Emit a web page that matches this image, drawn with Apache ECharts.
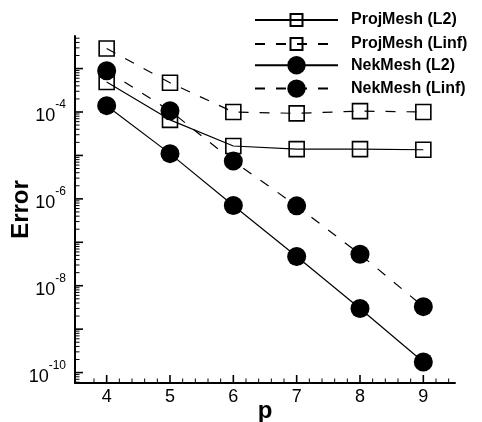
<!DOCTYPE html>
<html>
<head>
<meta charset="utf-8">
<script src="https://cdn.jsdelivr.net/npm/echarts@6/dist/echarts.min.js"></script>
<style>
  html, body { margin: 0; padding: 0; background: #fff; }
  #chart { width: 482px; height: 422px; }
</style>
</head>
<body>
<div id="chart"></div>
<script>
// Polynomial order p and the measured errors for each mesh generator
const orders = [4, 5, 6, 7, 8, 9];
const projMeshL2 = [4.9e-4, 6.6e-5, 1.65e-5, 1.4e-5, 1.4e-5, 1.35e-5];
const projMeshLinf = [2.9e-3, 4.7e-4, 1.0e-4, 9.3e-5, 1.05e-4, 1.0e-4];
const nekMeshL2 = [1.4e-4, 1.1e-5, 7.0e-7, 4.7e-8, 3.0e-9, 1.75e-10];
const nekMeshLinf = [8.9e-4, 1.07e-4, 7.4e-6, 6.9e-7, 5.3e-8, 3.3e-9];

const seriesNames = ['ProjMesh (L2)', 'ProjMesh (Linf)', 'NekMesh (L2)', 'NekMesh (Linf)'];

// Axis ranges
const xMin = 3.5, xMax = 9.5;
const yMin = Math.pow(10, -10.24), yMax = Math.pow(10, -2.25);

// Tick marks: decades with 2..9 minor subdivisions on y, 0.2 steps on x
const yDecades = [-11, -10, -9, -8, -7, -6, -5, -4, -3];
const yMinorSteps = [2, 3, 4, 5, 6, 7, 8, 9];
const xMinorStep = 0.2;

const FONT = '"Liberation Sans", Arial, Helvetica, sans-serif';

const yTicks = [];
yDecades.forEach(function (d) {
  const base = Math.pow(10, d);
  if (base >= yMin && base <= yMax) yTicks.push([xMin, base, 8, 1.6]);
  yMinorSteps.forEach(function (k) {
    const v = k * base;
    if (v >= yMin && v <= yMax) yTicks.push([xMin, v, 4.5, 1]);
  });
});
const xTicks = [];
for (let i = Math.round(xMin / xMinorStep) + 1; i * xMinorStep < xMax - 1e-9; i++) {
  const x = +(i * xMinorStep).toFixed(4);
  const major = Math.abs(x - Math.round(x)) < 1e-6;
  xTicks.push([x, yMin, major ? 8 : 4.5, major ? 1.6 : 1]);
}

function pairs(vals) {
  return orders.map(function (p, i) { return [p, vals[i]]; });
}

const dashed = [10, 11];
const squareStyle = { color: 'rgba(0,0,0,0)', borderColor: '#000', borderWidth: 1.6 };
const circleStyle = { color: '#000', borderColor: '#000', borderWidth: 0 };

const chart = echarts.init(document.getElementById('chart'), null, { renderer: 'canvas' });

chart.setOption({
  animation: false,
  backgroundColor: '#fff',
  grid: { left: 75, right: 27, top: 36, bottom: 39, containLabel: false, outerBoundsMode: 'none' },
  legend: [
    {
      data: seriesNames.slice(0, 2),
      orient: 'vertical', left: 254, top: 12, padding: 0,
      itemWidth: 83, itemHeight: 15, itemGap: 8,
      textStyle: { fontFamily: FONT, fontWeight: 'bold', fontSize: 16, color: '#000', padding: [0, 0, 0, 8] },
      selectedMode: false
    },
    {
      data: seriesNames.slice(2, 4),
      orient: 'vertical', left: 254, top: 56, padding: 0,
      itemWidth: 83, itemHeight: 23, itemGap: 5,
      textStyle: { fontFamily: FONT, fontWeight: 'bold', fontSize: 16, color: '#000', padding: [0, 0, 0, 8] },
      selectedMode: false
    }
  ],
  xAxis: {
    type: 'value', min: xMin, max: xMax, splitNumber: 6,
    name: 'p', nameLocation: 'middle', nameGap: 16, nameMoveOverlap: false,
    nameTextStyle: { fontFamily: FONT, fontWeight: 'bold', fontSize: 24, color: '#000' },
    axisLine: { show: true, lineStyle: { color: '#000', width: 2 } },
    axisTick: { show: false },
    splitLine: { show: false },
    axisLabel: {
      margin: 5, fontFamily: FONT, fontSize: 18, color: '#000',
      formatter: function (v) { return Math.abs(v - Math.round(v)) < 1e-6 ? String(Math.round(v)) : ''; }
    }
  },
  yAxis: {
    type: 'log', logBase: 10, min: yMin, max: yMax, splitNumber: 4,
    name: 'Error', nameLocation: 'middle', nameGap: 42, nameRotate: 90, nameMoveOverlap: false,
    nameTextStyle: { fontFamily: FONT, fontWeight: 'bold', fontSize: 24, color: '#000' },
    axisLine: { show: true, lineStyle: { color: '#000', width: 2 } },
    axisTick: { show: false },
    splitLine: { show: false },
    axisLabel: {
      margin: 9, color: '#000',
      formatter: function (v) {
        const e = Math.log10(v);
        const r = Math.round(e);
        if (Math.abs(e - r) > 1e-6 || r % 2 !== 0) return '';
        return '{b|10}{s|' + r + '}';
      },
      rich: {
        b: { fontFamily: FONT, fontSize: 18, lineHeight: 26, verticalAlign: 'bottom', color: '#000' },
        s: { fontFamily: FONT, fontSize: 12, lineHeight: 12, verticalAlign: 'top', color: '#000' }
      }
    }
  },
  series: [
    {
      name: 'ProjMesh (L2)', type: 'line', data: pairs(projMeshL2),
      symbol: 'rect', symbolSize: 15, z: 3,
      lineStyle: { color: '#000', width: 1.2, type: 'solid' },
      itemStyle: squareStyle
    },
    {
      name: 'ProjMesh (Linf)', type: 'line', data: pairs(projMeshLinf),
      symbol: 'rect', symbolSize: 15, z: 3,
      lineStyle: { color: '#000', width: 1.2, type: dashed },
      itemStyle: squareStyle
    },
    {
      name: 'NekMesh (L2)', type: 'line', data: pairs(nekMeshL2),
      symbol: 'circle', symbolSize: 19, z: 4,
      lineStyle: { color: '#000', width: 1.2, type: 'solid' },
      itemStyle: circleStyle
    },
    {
      name: 'NekMesh (Linf)', type: 'line', data: pairs(nekMeshLinf),
      symbol: 'circle', symbolSize: 19, z: 4,
      lineStyle: { color: '#000', width: 1.2, type: dashed },
      itemStyle: circleStyle
    },
    {
      // inward ticks on the y axis
      type: 'custom', silent: true, clip: false, z: 5,
      encode: { x: 0, y: 1 },
      data: yTicks,
      renderItem: function (params, api) {
        const pt = api.coord([api.value(0), api.value(1)]);
        return {
          type: 'line',
          shape: { x1: pt[0], y1: pt[1], x2: pt[0] + api.value(2), y2: pt[1] },
          style: { stroke: '#000', lineWidth: api.value(3) }
        };
      }
    },
    {
      // inward ticks on the x axis
      type: 'custom', silent: true, clip: false, z: 5,
      encode: { x: 0, y: 1 },
      data: xTicks,
      renderItem: function (params, api) {
        const pt = api.coord([api.value(0), api.value(1)]);
        return {
          type: 'line',
          shape: { x1: pt[0], y1: pt[1], x2: pt[0], y2: pt[1] - api.value(2) },
          style: { stroke: '#000', lineWidth: api.value(3) }
        };
      }
    }
  ]
});
</script>
</body>
</html>
